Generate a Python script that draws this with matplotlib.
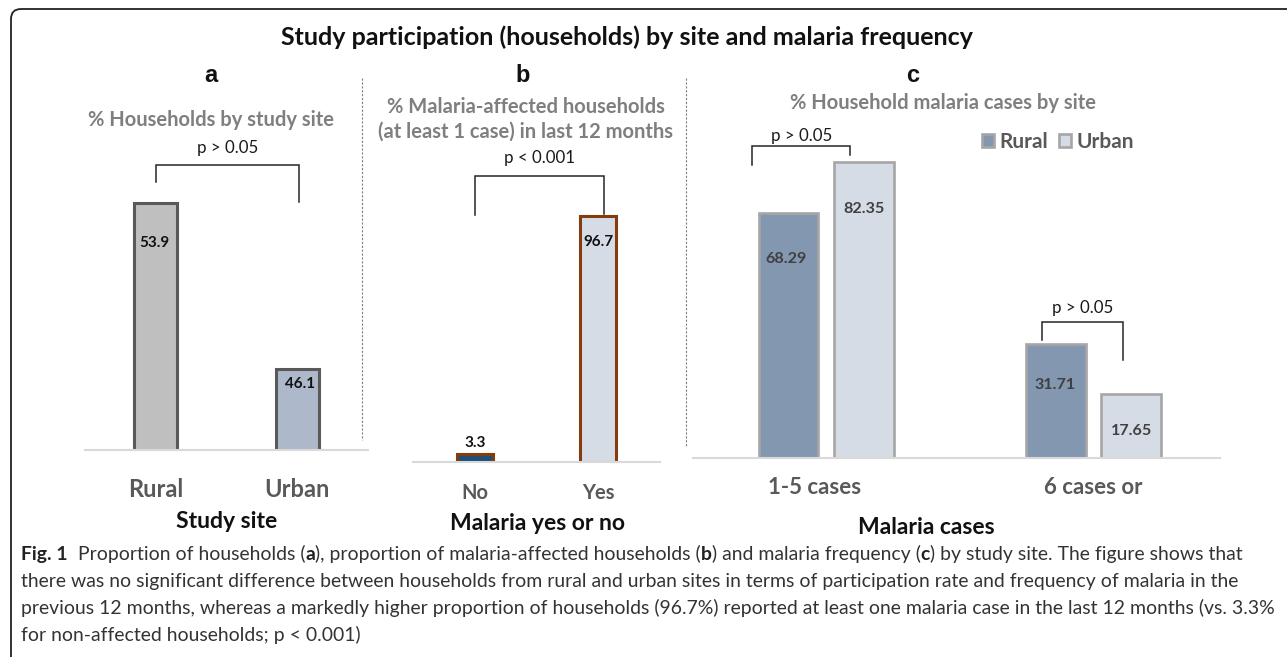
import matplotlib
matplotlib.use("Agg")
import matplotlib.pyplot as plt
from matplotlib.patches import FancyBboxPatch
from matplotlib.offsetbox import TextArea, HPacker, AnnotationBbox

W, H = 1287, 657

# (a) households by study site
sites = ["Rural", "Urban"]
site_pct = [53.9, 46.1]

# (b) malaria-affected households
malaria_cats = ["No", "Yes"]
malaria_pct = [3.3, 96.7]

# (c) malaria frequency by site
case_groups = ["1-5 cases", "6 cases or"]
rural_cases = [68.29, 31.71]
urban_cases = [82.35, 17.65]

plt.rcParams["font.family"] = ["Lato", "DejaVu Sans"]

fig = plt.figure(figsize=(W / 100, H / 100), dpi=100)

# full-figure overlay in pixel units (y down) for titles, dividers and caption
ov = fig.add_axes([0, 0, 1, 1])
ov.set_xlim(0, W)
ov.set_ylim(H, 0)
ov.axis("off")


def box(left, top, right, bottom):
    return [left / W, 1 - bottom / H, (right - left) / W, (bottom - top) / H]


def style_axes(ax):
    ax.patch.set_visible(False)
    for s in ["top", "right", "left"]:
        ax.spines[s].set_visible(False)
    ax.spines["bottom"].set_color("#d9d9d9")
    ax.spines["bottom"].set_linewidth(1.5)
    ax.set_yticks([])
    ax.tick_params(axis="x", length=0)


def bracket(ax, x0, x1, y_top, y0, y1, label, gap):
    ax.plot([x0, x0, x1, x1], [y0, y_top, y_top, y1], color="#262626",
            lw=1.1, clip_on=False, solid_joinstyle="miter")
    ax.annotate(label, xy=((x0 + x1) / 2, y_top), xytext=(0, gap),
                textcoords="offset pixels", ha="center", va="center",
                fontsize=12.2, color="#1a1a1a", annotation_clip=False)


# ---- panel a
ax_a = fig.add_axes(box(85, 130, 368, 450))
style_axes(ax_a)
ax_a.set_xlim(-0.5, 1.5)
ax_a.set_ylim(42.29, 57.33)
ax_a.bar(range(len(sites)), site_pct, width=0.305,
         color=["#bfbfbf", "#adb9ca"], edgecolor="#595959", linewidth=2.2)
ax_a.set_xticks(range(len(sites)), sites, fontsize=17, fontweight="bold", color="#595959")
ax_a.tick_params(axis="x", pad=20)
for i, (v, off) in enumerate(zip(site_pct, [(-1, -40), (3, -15)])):
    ax_a.annotate(f"{v}", xy=(i, v), xytext=off, textcoords="offset pixels",
                  ha="center", va="center", fontsize=11, fontweight="bold", color="#111111")
bracket(ax_a, 0.0, 1.01, 55.68, 54.88, 53.94, "p > 0.05", 17)

# ---- panel b
ax_b = fig.add_axes(box(413, 130, 660, 462))
style_axes(ax_b)
ax_b.set_xlim(-0.504, 1.504)
ax_b.set_ylim(0, 130.5)
ax_b.bar(range(len(malaria_cats)), malaria_pct, width=0.30,
         color=["#1f4e79", "#d6dce5"], edgecolor="#843c0c", linewidth=2.2)
ax_b.set_xticks(range(len(malaria_cats)), malaria_cats, fontsize=14.5, fontweight="bold", color="#595959")
ax_b.tick_params(axis="x", pad=15)
for i, (v, off) in enumerate(zip(malaria_pct, [(0, 11), (0, -26)])):
    ax_b.annotate(f"{v}", xy=(i, v), xytext=off, textcoords="offset pixels",
                  ha="center", va="center", fontsize=11, fontweight="bold", color="#111111")
bracket(ax_b, 0.0, 1.05, 112.4, 97.1, 97.5, "p < 0.001", 18)

# ---- panel c
ax_c = fig.add_axes(box(693, 110, 1220, 457.7))
style_axes(ax_c)
ax_c.set_xlim(-0.499, 1.473)
ax_c.set_ylim(0, 96.85)
xs = list(range(len(case_groups)))
ax_c.bar([x - 0.141 for x in xs], rural_cases, width=0.223, color="#8497b0",
         edgecolor="#a6a6a6", linewidth=1.9, label="Rural")
ax_c.bar([x + 0.141 for x in xs], urban_cases, width=0.223, color="#d6dce5",
         edgecolor="#a6a6a6", linewidth=1.9, label="Urban")
ax_c.set_xticks(xs, [""] * len(xs))
for x, lab, dx in zip(xs, case_groups, [-12, 0]):
    ax_c.annotate(lab, xy=(x, 0), xytext=(dx, -30), textcoords="offset pixels",
                  ha="center", va="center", fontsize=16, fontweight="bold", color="#595959")
offs_r = [(-3, -46), (-1, -41)]
offs_u = [(0, -47), (0, -37)]
for i in xs:
    ax_c.annotate(f"{rural_cases[i]:.2f}", xy=(i - 0.141, rural_cases[i]), xytext=offs_r[i],
                  textcoords="offset pixels", ha="center", va="center",
                  fontsize=11.6, fontweight="bold", color="#404040")
    ax_c.annotate(f"{urban_cases[i]:.2f}", xy=(i + 0.141, urban_cases[i]), xytext=offs_u[i],
                  textcoords="offset pixels", ha="center", va="center",
                  fontsize=11.6, fontweight="bold", color="#404040")
bracket(ax_c, -0.277, 0.089, 86.8, 81.5, 84.3, "p > 0.05", 10)
bracket(ax_c, 0.806, 1.109, 37.9, 32.8, 27.2, "p > 0.05", 14)
ax_c.legend(loc="center", bbox_to_anchor=(1058 / W, 1 - 142 / H), bbox_transform=fig.transFigure,
            ncol=2, frameon=False, handlelength=0.6, handleheight=0.6, handletextpad=0.25,
            columnspacing=0.5, prop={"size": 15, "weight": "bold"}, labelcolor="#595959")

# ---- titles, panel letters, subtitles, axis titles
ov.text(627, 37, "Study participation (households) by site and malaria frequency",
        ha="center", va="center", fontsize=18, fontweight="bold", color="#111111")
for letter, x in [("a", 211), ("b", 523), ("c", 913)]:
    ov.text(x, 75, letter, ha="center", va="center", fontsize=17, fontweight="bold",
            family="Liberation Sans", color="#111111")
sub_kw = dict(ha="center", va="center", fontsize=14.5, fontweight="bold", color="#7f7f7f")
ov.text(211, 120, "% Households by study site", **sub_kw)
ov.text(526, 107, "% Malaria-affected households", **sub_kw)
ov.text(526, 132, "(at least 1 case) in last 12 months", **sub_kw)
ov.text(943, 103, "% Household malaria cases by site", **sub_kw)
xl_kw = dict(ha="center", va="center", fontsize=16.5, fontweight="bold", color="#111111")
ov.text(227, 521, "Study site", **xl_kw)
ov.text(538, 523, "Malaria yes or no", **xl_kw)
ov.text(926, 528, "Malaria cases", **xl_kw)

# dashed dividers between panels
for x, y1 in [(362, 440), (686, 447)]:
    ov.plot([x, x], [78, y1], color="#7f7f7f", lw=0.8, ls=(0, (2, 1.5)))

# rounded frame (only top-left corner falls inside the canvas)
ov.add_patch(FancyBboxPatch((11, 9), 1400, 700, boxstyle="round,pad=0,rounding_size=10",
                            fill=False, edgecolor="#222222", lw=1.3, clip_on=False))

# ---- caption
caption_lines = [
    [("Fig. 1", True), ("  Proportion of households (", False), ("a", True),
     ("), proportion of malaria-affected households (", False), ("b", True),
     (") and malaria frequency (", False), ("c", True), (") by study site. The figure shows that", False)],
    [("there was no significant difference between households from rural and urban sites in terms of "
      "participation rate and frequency of malaria in the", False)],
    [("previous 12 months, whereas a markedly higher proportion of households (96.7%) reported at least "
      "one malaria case in the last 12 months (vs. 3.3%", False)],
    [("for non-affected households; p < 0.001)", False)],
]


def caption_line(parts, size):
    kids = []
    for s, is_bold in parts:
        props = dict(fontsize=size, family=["Lato", "DejaVu Sans"],
                     color="#222222" if is_bold else "#333333",
                     fontweight="bold" if is_bold else "normal")
        kids.append(TextArea(s, textprops=props))
    return HPacker(children=kids, align="baseline", pad=0, sep=0)


# size the caption so the first line spans the frame width
probe = caption_line(caption_lines[0], 12)
ab = AnnotationBbox(probe, (21, 554), xycoords="data", box_alignment=(0, 0.5), frameon=False, pad=0)
ov.add_artist(ab)
fig.canvas.draw()
w = probe.get_window_extent(fig.canvas.get_renderer()).width
ab.remove()
cap_size = 12 * 1215 / w

for k, parts in enumerate(caption_lines):
    ab = AnnotationBbox(caption_line(parts, cap_size), (21, 554 + 27 * k), xycoords="data",
                        box_alignment=(0, 0.5), frameon=False, pad=0)
    ov.add_artist(ab)

fig.savefig("out.png", dpi=100)
